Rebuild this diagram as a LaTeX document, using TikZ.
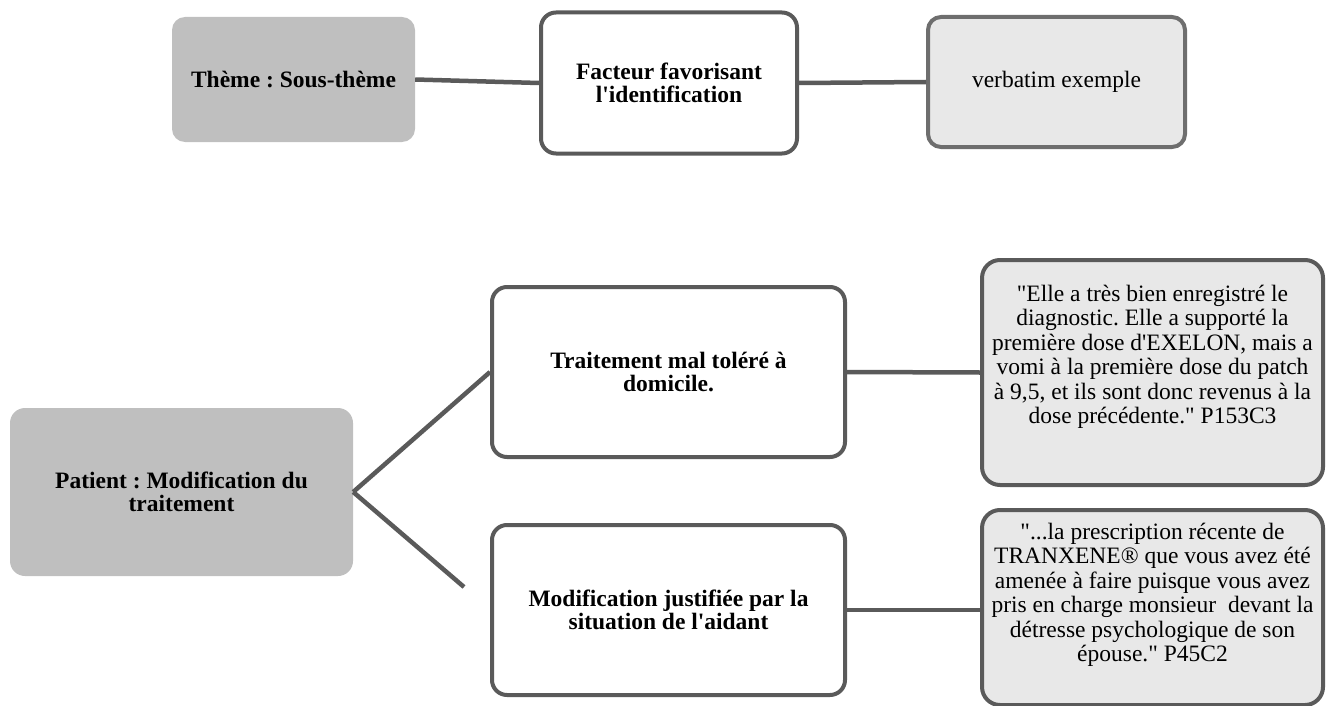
\documentclass[tikz,border=0pt]{standalone}
\usepackage{fontspec}
\setmainfont{Liberation Serif}[Ligatures=TeXOff]
\frenchspacing
\definecolor{themefill}{HTML}{BFBFBF}
\definecolor{verbfill}{HTML}{E8E8E8}
\definecolor{edge}{HTML}{5A5A5A}
\definecolor{edgelight}{HTML}{6E6E6E}
\tikzset{
  theme/.style={rectangle, rounded corners=13pt, fill=themefill, draw=none,
    align=center, font=\fontsize{23.5}{23.5}\selectfont\bfseries, inner sep=0pt},
  factor/.style={rectangle, rounded corners=15pt, fill=white, draw=edge, line width=4pt,
    align=center, font=\fontsize{23.5}{23.5}\selectfont\bfseries, inner sep=0pt},
  verb/.style={rectangle, rounded corners=18pt, fill=verbfill, draw=edge, line width=4pt,
    inner sep=0pt},
  verbtext/.style={align=center, font=\fontsize{23.5}{24.5}\selectfont, inner sep=0pt},
  link/.style={draw=edge, line width=4.5pt}
}
\begin{document}
\begin{tikzpicture}[x=1pt,y=-1pt]
\useasboundingbox (0,0) rectangle (1327,706);
% top row
\node[theme, minimum width=243pt, minimum height=125pt] (A) at (293.5,79.5) {Thème : Sous-thème};
\node[factor, minimum width=256pt, minimum height=141pt] (B) at (669,83) {Facteur favorisant\\l'identification};
\node[verb, draw=edgelight, minimum width=257pt, minimum height=130pt, rounded corners=13pt] (C) at (1056.5,82) {};
\node[verbtext] (Ct) at (1056.5,82) {verbatim exemple};
\draw[link] (A.east) -- (B.west);
\draw[link] (B.east) -- (C.west);
% bottom part
\node[theme, minimum width=343pt, minimum height=168pt, rounded corners=15pt] (D) at (181.5,492) {Patient : Modification du\\traitement};
\node[factor, minimum width=353pt, minimum height=170pt] (E) at (668.5,372) {Traitement mal toléré à\\domicile.};
\node[factor, minimum width=353pt, minimum height=170pt] (F) at (668.5,610) {Modification justifiée par la\\situation de l'aidant};
\node[verb, minimum width=341pt, minimum height=225pt] (G) at (1152.5,372.5) {};
\node[verbtext] (Gt) at (1152.5,357) {"Elle a très bien enregistré le\\diagnostic. Elle a supporté la\\première dose d'EXELON, mais a\\vomi à la première dose du patch\\à 9,5, et ils sont donc revenus à la\\dose précédente." P153C3};
\node[verb, minimum width=341pt, minimum height=195pt] (H) at (1152.5,607.5) {};
\node[verbtext] (Ht) at (1152.5,595) {"...la prescription récente de\\TRANXENE® que vous avez été\\amenée à faire puisque vous avez\\pris en charge monsieur\ \ devant la\\détresse psychologique de son\\épouse." P45C2};
\coordinate (Fend) at (464,587);
\draw[link] (D.east) -- (E.west);
\draw[link] (D.east) -- (Fend);
\draw[link] (E.east) -- (G.west);
\draw[link] (F.east) -- (F.east -| H.west);
\end{tikzpicture}
\end{document}
